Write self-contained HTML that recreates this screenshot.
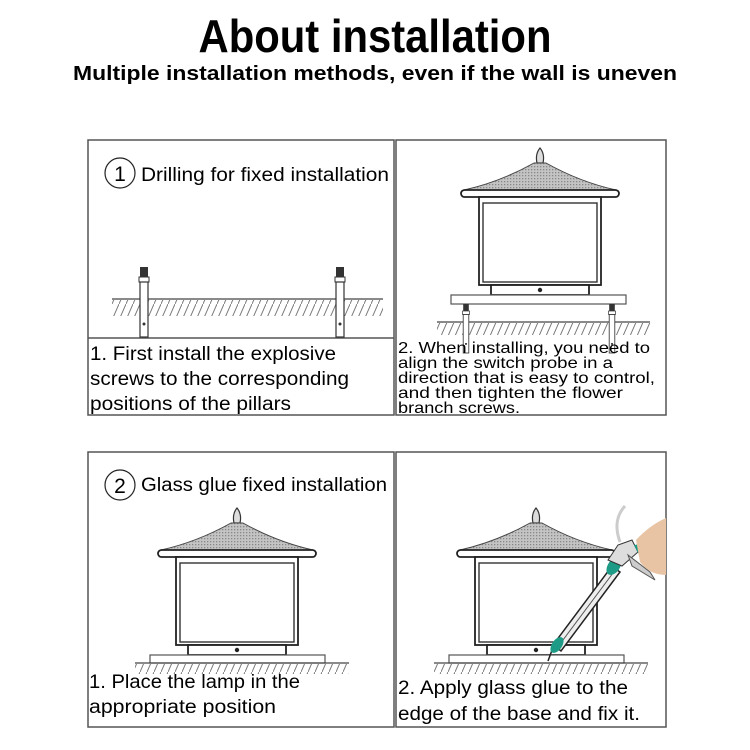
<!DOCTYPE html>
<html><head><meta charset="utf-8"><style>
html,body{margin:0;padding:0;background:#fff;width:750px;height:750px;overflow:hidden}
svg{display:block}
text{font-family:"Liberation Sans",sans-serif;fill:#000}
</style></head><body>
<svg width="750" height="750" viewBox="0 0 750 750" xmlns="http://www.w3.org/2000/svg">
<defs>
<pattern id="hatch" width="7" height="16" patternUnits="userSpaceOnUse">
<line x1="7" y1="0" x2="0" y2="16" stroke="#777" stroke-width="1"/>
</pattern>
<pattern id="roofp" width="3" height="3" patternUnits="userSpaceOnUse">
<rect width="3" height="3" fill="#c4c4c4"/><rect width="1.3" height="1.3" fill="#888"/>
</pattern>
<g id="lamp">
<path d="M-3,15 Q-5,6 0,0 Q5,6 3,15 Z" fill="#ddd" stroke="#333" stroke-width="1.2"/>
<path d="M-6,15 L6,15 Q40,34 76,42 L-76,42 Q-40,34 -6,15 Z" fill="url(#roofp)" stroke="#444" stroke-width="1"/>
<rect x="-79" y="42" width="158" height="7" rx="3.5" fill="#fff" stroke="#222" stroke-width="1.8"/>
<rect x="-61" y="49" width="122" height="88" fill="#fff" stroke="#222" stroke-width="1.8"/>
<rect x="-57" y="55" width="114" height="79" fill="#fff" stroke="#333" stroke-width="1.4"/>
<rect x="-49" y="137" width="98" height="10" fill="#fff" stroke="#222" stroke-width="1.8"/>
<circle cx="0" cy="142" r="2.2" fill="#222"/>
</g>
<g id="screw">
<rect x="-4" y="0" width="8" height="10" fill="#333"/>
<rect x="-5" y="10" width="10" height="5" fill="#fff" stroke="#333"/>
<rect x="-4" y="15" width="8" height="55" fill="#fff" stroke="#333" stroke-width="1.2"/>
<circle cx="0" cy="57" r="1.5" fill="#333"/>
</g>
</defs>

<text x="375" y="52" text-anchor="middle" font-size="46" font-weight="bold" textLength="353" lengthAdjust="spacingAndGlyphs">About installation</text>
<text x="375" y="80" text-anchor="middle" font-size="20" font-weight="bold" textLength="604" lengthAdjust="spacingAndGlyphs">Multiple installation methods, even if the wall is uneven</text>

<g fill="none" stroke="#555" stroke-width="1.5">
<rect x="88" y="140" width="306" height="275"/>
<rect x="396" y="140" width="270" height="275"/>
<line x1="88" y1="338" x2="394" y2="338"/>
<rect x="88" y="452" width="306" height="275"/>
<rect x="396" y="452" width="270" height="275"/>
</g>

<!-- Panel 1 -->
<circle cx="120" cy="173" r="15" fill="none" stroke="#222" stroke-width="1.2"/>
<text x="120" y="181" text-anchor="middle" font-size="21">1</text>
<text x="141" y="181" font-size="19" textLength="248" lengthAdjust="spacingAndGlyphs">Drilling for fixed installation</text>
<rect x="112" y="300" width="271" height="16" fill="url(#hatch)"/>
<line x1="112" y1="299" x2="383" y2="299" stroke="#444" stroke-width="1.2"/>
<use href="#screw" x="144" y="267"/>
<use href="#screw" x="340" y="267"/>
<text x="90" y="360" font-size="19" textLength="246" lengthAdjust="spacingAndGlyphs">1. First install the explosive</text>
<text x="90" y="385" font-size="19" textLength="259" lengthAdjust="spacingAndGlyphs">screws to the corresponding</text>
<text x="90" y="410" font-size="19" textLength="201" lengthAdjust="spacingAndGlyphs">positions of the pillars</text>

<!-- Panel 2 -->
<use href="#lamp" x="540" y="148"/>
<rect x="451" y="295" width="175" height="9" fill="#fff" stroke="#555" stroke-width="1.2"/>
<rect x="437" y="323" width="213" height="12" fill="url(#hatch)"/>
<line x1="437" y1="322" x2="650" y2="322" stroke="#444" stroke-width="1.2"/>
<g transform="translate(466,304) scale(0.7)"><use href="#screw"/></g>
<g transform="translate(612,304) scale(0.7)"><use href="#screw"/></g>
<text x="398" y="353" font-size="16" textLength="252" lengthAdjust="spacingAndGlyphs">2. When installing, you need to</text>
<text x="398" y="368" font-size="16" textLength="215" lengthAdjust="spacingAndGlyphs">align the switch probe in a</text>
<text x="398" y="383" font-size="16" textLength="257" lengthAdjust="spacingAndGlyphs">direction that is easy to control,</text>
<text x="398" y="398" font-size="16" textLength="225" lengthAdjust="spacingAndGlyphs">and then tighten the flower</text>
<text x="398" y="413" font-size="16" textLength="122" lengthAdjust="spacingAndGlyphs">branch screws.</text>

<!-- Panel 3 -->
<circle cx="120" cy="485" r="15" fill="none" stroke="#222" stroke-width="1.2"/>
<text x="120" y="493" text-anchor="middle" font-size="21">2</text>
<text x="141" y="491" font-size="19" textLength="246" lengthAdjust="spacingAndGlyphs">Glass glue fixed installation</text>
<use href="#lamp" x="237" y="508"/>
<rect x="150" y="655" width="175" height="8" fill="#fff" stroke="#555" stroke-width="1.2"/>
<rect x="135" y="664" width="214" height="10" fill="url(#hatch)"/>
<line x1="135" y1="663" x2="349" y2="663" stroke="#444" stroke-width="1.2"/>
<text x="89" y="688" font-size="19" textLength="211" lengthAdjust="spacingAndGlyphs">1. Place the lamp in the</text>
<text x="89" y="713" font-size="19" textLength="187" lengthAdjust="spacingAndGlyphs">appropriate position</text>

<!-- Panel 4 -->
<use href="#lamp" x="536" y="508"/>
<rect x="449" y="655" width="175" height="8" fill="#fff" stroke="#555" stroke-width="1.2"/>
<rect x="434" y="664" width="214" height="10" fill="url(#hatch)"/>
<line x1="434" y1="663" x2="648" y2="663" stroke="#444" stroke-width="1.2"/>
<!-- caulk gun -->
<line x1="548" y1="661" x2="555" y2="642" stroke="#222" stroke-width="1.5"/>
<path d="M553,645 L612,566 L620,572 L561,651 Z" fill="#eee" stroke="#222" stroke-width="1.5"/>
<line x1="557" y1="648" x2="616" y2="569" stroke="#555" stroke-width="1"/>
<ellipse cx="557" cy="645" rx="9" ry="5" fill="#1e9b86" transform="rotate(-55 557 645)"/>
<ellipse cx="614" cy="566" rx="10" ry="6" fill="#1e9b86" transform="rotate(-55 614 566)"/>
<path d="M608,560 L618,545 L632,540 L638,552 L622,566 Z" fill="#ddd" stroke="#333"/>
<path d="M628,555 L650,572 L655,580 L632,566 Z" fill="#ccc" stroke="#555"/>
<path d="M634,545 L666,540 L666,550 L638,553 Z" fill="#1e9b86"/>
<path d="M636,540 Q650,525 666,518 L666,575 Q650,575 640,562 Z" fill="#e8c3a4"/>
<path d="M620,542 Q612,520 625,506" fill="none" stroke="#ccc" stroke-width="3"/>
<text x="398" y="694" font-size="19" textLength="230" lengthAdjust="spacingAndGlyphs">2. Apply glass glue to the</text>
<text x="398" y="720" font-size="19" textLength="242" lengthAdjust="spacingAndGlyphs">edge of the base and fix it.</text>
</svg>
</body></html>
